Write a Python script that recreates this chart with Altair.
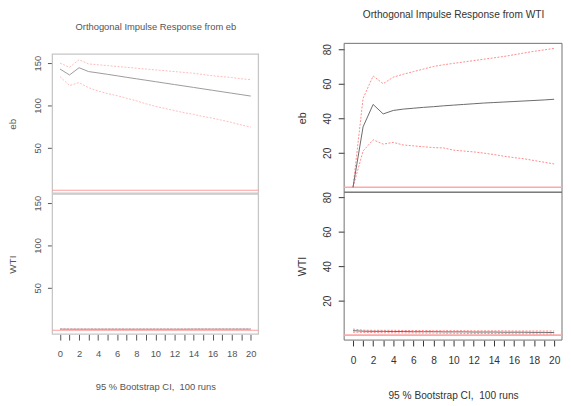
import altair as alt
import pandas as pd

# ---------------- data ----------------
steps = list(range(21))

# left figure: Orthogonal Impulse Response from eb
eb_eb_mid = [143, 136, 144.5, 140, 138.4, 136.7, 135, 133.2, 131.5, 129.8, 128.1,
             126.4, 124.7, 123, 121.3, 119.6, 117.9, 116.2, 114.5, 112.8, 111.1]
eb_eb_up = [150, 145, 154, 149, 148, 147, 146, 145, 144, 143, 142,
            141, 140, 139, 138, 136.5, 135, 134, 133, 131.5, 130.5]
eb_eb_lo = [134, 123.5, 127, 121, 117, 114, 111.5, 108.5, 105.5, 102, 99,
            96.5, 94, 91.5, 89.5, 87, 85, 82.5, 80, 77, 74.5]
eb_wti_mid = [1.3, 1.2, 1.2, 1.2, 1.2, 1.2, 1.2, 1.2, 1.2, 1.2, 1.2,
              1.2, 1.2, 1.2, 1.3, 1.3, 1.3, 1.3, 1.3, 1.3, 1.3]
eb_wti_up = [2.0, 1.9, 1.9, 1.9, 1.9, 1.9, 1.9, 1.9, 1.9, 1.9, 1.9,
             1.9, 1.9, 1.9, 1.9, 1.9, 1.9, 1.9, 1.9, 1.9, 1.9]
eb_wti_lo = [0.6, 0.6, 0.6, 0.6, 0.6, 0.6, 0.6, 0.6, 0.6, 0.6, 0.6,
             0.6, 0.6, 0.6, 0.6, 0.6, 0.6, 0.6, 0.6, 0.6, 0.6]

# right figure: Orthogonal Impulse Response from WTI
wti_eb_mid = [0, 35, 48, 42.5, 44.5, 45.3, 45.8, 46.3, 46.7, 47.2, 47.6,
              48, 48.4, 48.8, 49.1, 49.4, 49.7, 50, 50.3, 50.6, 51]
wti_eb_up = [0, 51.5, 64.5, 60, 63.8, 65.5, 67, 68.5, 70, 71, 71.8,
             72.6, 73.4, 74.2, 75, 75.8, 76.8, 77.8, 78.8, 79.6, 80.5]
wti_eb_lo = [0, 21, 27.5, 25, 26, 24.5, 24, 23.5, 23, 22.8, 21.5,
             21, 20.5, 19.8, 19, 18, 17.2, 16.5, 15.5, 14.5, 13.5]
wti_wti_mid = [2.6, 2.3, 2.2, 2.2, 2.1, 2.1, 2.0, 2.0, 2.0, 1.9, 1.9,
               1.9, 1.8, 1.8, 1.8, 1.7, 1.7, 1.7, 1.6, 1.6, 1.5]
wti_wti_up = [3.5, 2.9, 2.8, 2.8, 2.8, 2.7, 2.7, 2.7, 2.6, 2.6, 2.6,
              2.6, 2.5, 2.5, 2.5, 2.5, 2.4, 2.4, 2.4, 2.4, 2.4]
wti_wti_lo = [1.7, 1.6, 1.5, 1.4, 1.4, 1.3, 1.3, 1.2, 1.2, 1.1, 1.1,
              1.0, 1.0, 1.0, 0.9, 0.9, 0.8, 0.8, 0.8, 0.7, 0.7]

x_ticks = list(range(21))
left_y_ticks = [50, 100, 150]
right_y_ticks = [20, 40, 60, 80]
title_left = "Orthogonal Impulse Response from eb"
title_right = "Orthogonal Impulse Response from WTI"
xlab = "95 % Bootstrap CI,\u00a0 100 runs"

df = pd.DataFrame({
    "t": steps,
    "eb_eb_mid": eb_eb_mid, "eb_eb_up": eb_eb_up, "eb_eb_lo": eb_eb_lo,
    "eb_wti_mid": eb_wti_mid, "eb_wti_up": eb_wti_up, "eb_wti_lo": eb_wti_lo,
    "wti_eb_mid": wti_eb_mid, "wti_eb_up": wti_eb_up, "wti_eb_lo": wti_eb_lo,
    "wti_wti_mid": wti_wti_mid, "wti_wti_up": wti_wti_up, "wti_wti_lo": wti_wti_lo,
})

# ---------------- layout / style ----------------
FONT = "Liberation Sans"
W, H = 563, 397
PAGE = 8  # page margin: view pixel = page pixel - 8

LEFT = dict(box="#c6c6c6", boxw=1.3, mid="#9a9a9a", band="#ffbcbc", zero="#ff9c9c",
            zw=1.2, text="#555555", fs=9.5, tick=5, pad=7, xpad=9)
RIGHT = dict(box="#707070", boxw=1.0, mid="#6a6a6a", band="#ff8a8a", zero="#ffa8a8",
             zw=1.6, text="#333333", fs=10.3, tick=6, pad=8, xpad=10)


def sc(dom, rng):
    return alt.Scale(domain=dom, range=[r - PAGE for r in rng], nice=False, zero=False)


def panel(xdom, xpx, ydom, ypx, cols, st, ytitle, ytitle_x, top=None, bottom=None):
    xs = sc(xdom, xpx)
    ys = sc(ydom, [ypx[1], ypx[0]])
    one = alt.Data(values=[{}])
    box = alt.Chart(one).mark_rect(fillOpacity=0, stroke=st["box"], strokeWidth=st["boxw"]).encode(
        x=alt.XDatum(xdom[0], scale=xs, axis=None),
        x2=alt.X2Datum(xdom[1]),
        y=alt.YDatum(ydom[0], scale=ys, axis=None),
        y2=alt.Y2Datum(ydom[1]),
    )
    zero = alt.Chart(one).mark_rule(color=st["zero"], strokeWidth=st["zw"]).encode(
        x=alt.XDatum(xdom[0], scale=xs, axis=None),
        x2=alt.X2Datum(xdom[1]),
        y=alt.YDatum(0, scale=ys, axis=None),
    )
    yaxis = alt.Axis(
        orient="left", offset=-(xpx[0] - PAGE), values=st["yt"], domain=False, grid=False,
        tickSize=st["tick"], tickColor=st["text"], labelPadding=st["pad"], labelAngle=270,
        labelAlign="center", labelBaseline="alphabetic", labelFont=FONT,
        labelFontSize=st["fs"], labelColor=st["text"], labelOverlap=False, labelFlush=False,
        title=ytitle, titleX=ytitle_x, titleAngle=270, titleBaseline="middle",
        titleAlign="center", titleFont=FONT, titleFontSize=st["fs"] + 0.5,
        titleFontWeight="normal", titleColor=st["text"],
    )
    if top is not None:
        xaxis = alt.Axis(
            orient="top", offset=-(ypx[0] - PAGE), labels=False, ticks=False, domain=False,
            grid=False, title=top[0], titleY=top[1], titleBaseline="middle",
            titleFont=FONT, titleFontSize=st["fs"], titleFontWeight="normal",
            titleColor=st["text"],
        )
    else:
        xaxis = alt.Axis(
            orient="bottom", offset=(ypx[1] - PAGE) - H, values=x_ticks, domain=False,
            grid=False, tickSize=6, tickColor=st["text"], labelPadding=st["xpad"],
            labelExpr="datum.value % 2 == 0 ? datum.label : ''", labelFont=FONT,
            labelFontSize=st["fs"], labelColor=st["text"], labelOverlap=False,
            labelFlush=False, title=bottom[0], titleY=bottom[1], titleBaseline="middle",
            titleFont=FONT, titleFontSize=st["fs"], titleFontWeight="normal",
            titleColor=st["text"],
        )
    mid, up, lo = cols
    l_up = alt.Chart().mark_line(color=st["band"], strokeWidth=1, strokeDash=[2, 1.5]).encode(
        x=alt.X("t:Q", scale=xs, axis=None), y=alt.Y(f"{up}:Q", scale=ys, axis=None))
    l_lo = alt.Chart().mark_line(color=st["band"], strokeWidth=1, strokeDash=[2, 1.5]).encode(
        x=alt.X("t:Q", scale=xs, axis=None), y=alt.Y(f"{lo}:Q", scale=ys, axis=None))
    l_mid = alt.Chart().mark_line(color=st["mid"], strokeWidth=1).encode(
        x=alt.X("t:Q", scale=xs, axis=xaxis), y=alt.Y(f"{mid}:Q", scale=ys, axis=yaxis))
    return [box, zero, l_up, l_lo, l_mid]


L = dict(LEFT, yt=left_y_ticks)
R = dict(RIGHT, yt=right_y_ticks)

layers = []
# left figure
layers += panel([-0.8, 20.8], [53, 262], [-3.5, 160.5], [52, 193],
                ("eb_eb_mid", "eb_eb_up", "eb_eb_lo"), L, "eb", 13 - 53,
                top=(title_left, 24 - 52))
layers += panel([-0.8, 20.8], [53, 262], [-4.65, 160.5], [194, 336],
                ("eb_wti_mid", "eb_wti_up", "eb_wti_lo"), L, "WTI", 13 - 53,
                bottom=(xlab, 389 - 336))
# right figure
layers += panel([-0.88, 20.78], [349, 570], [-2.86, 83.4], [41, 192],
                ("wti_eb_mid", "wti_eb_up", "wti_eb_lo"), R, "eb", 307 - 349,
                top=(title_right, 11.5 - 41))
layers += panel([-0.88, 20.78], [349, 570], [-2.86, 82.9], [192, 342],
                ("wti_wti_mid", "wti_wti_up", "wti_wti_lo"), R, "WTI", 307 - 349,
                bottom=(xlab, 398 - 342))

chart = alt.layer(*layers, data=df).resolve_scale(
    x="independent", y="independent"
).properties(
    width=W, height=H, padding=0, autosize=alt.AutoSizeParams(type="none"),
    background="white",
).configure_view(stroke=None)

chart.save("out.html", embed_options={"renderer": "svg", "actions": False})
